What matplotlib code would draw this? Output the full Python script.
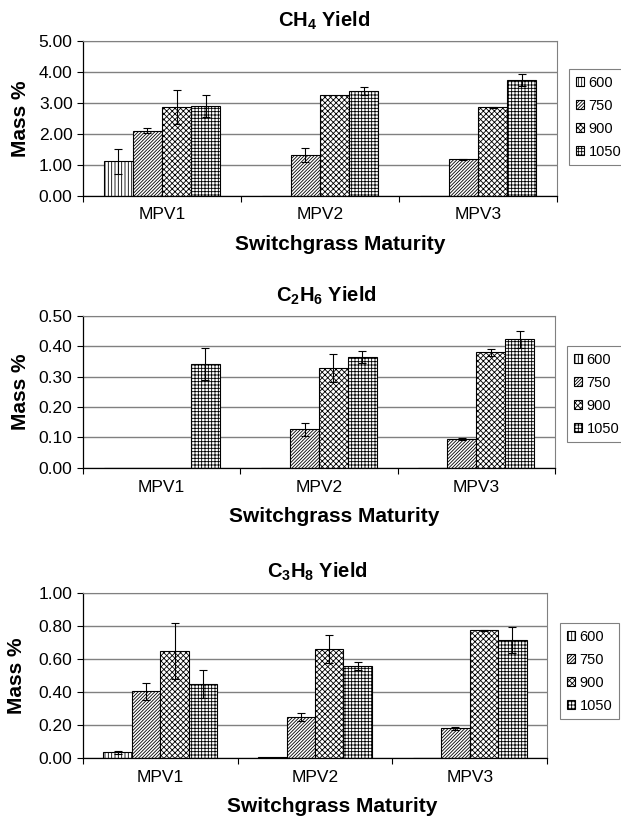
import numpy as np
import matplotlib
matplotlib.use("Agg")
import matplotlib.pyplot as plt
from matplotlib.ticker import FormatStrFormatter

plt.rcParams['font.family'] = ['Liberation Sans', 'DejaVu Sans']
plt.rcParams['hatch.linewidth'] = 0.6
plt.rcParams['mathtext.fontset'] = 'custom'
plt.rcParams['mathtext.rm'] = 'Liberation Sans:bold'
plt.rcParams['mathtext.it'] = 'Liberation Sans:bold'
plt.rcParams['mathtext.bf'] = 'Liberation Sans:bold'

# %% data
maturity = ['MPV1', 'MPV2', 'MPV3']
temps = ['600', '750', '900', '1050']

# CH4 yield (mass %), one list per temperature, values per maturity
ch4_600 = [1.11, 0.0, 0.0]
ch4_750 = [2.11, 1.31, 1.18]
ch4_900 = [2.86, 3.26, 2.86]
ch4_1050 = [2.90, 3.39, 3.75]
ch4_err_600 = [0.41, 0.0, 0.0]
ch4_err_750 = [0.09, 0.22, 0.01]
ch4_err_900 = [0.55, 0.0, 0.01]
ch4_err_1050 = [0.36, 0.12, 0.20]

# C2H6 yield
c2h6_600 = [0.0, 0.0, 0.0]
c2h6_750 = [0.0, 0.126, 0.095]
c2h6_900 = [0.0, 0.328, 0.379]
c2h6_1050 = [0.341, 0.363, 0.423]
c2h6_err_600 = [0.0, 0.0, 0.0]
c2h6_err_750 = [0.0, 0.022, 0.003]
c2h6_err_900 = [0.0, 0.045, 0.010]
c2h6_err_1050 = [0.052, 0.020, 0.028]

# C3H8 yield
c3h8_600 = [0.032, 0.002, 0.001]
c3h8_750 = [0.403, 0.247, 0.180]
c3h8_900 = [0.646, 0.662, 0.773]
c3h8_1050 = [0.447, 0.557, 0.715]
c3h8_err_600 = [0.010, 0.0, 0.0]
c3h8_err_750 = [0.053, 0.026, 0.009]
c3h8_err_900 = [0.170, 0.084, 0.004]
c3h8_err_1050 = [0.087, 0.025, 0.076]

hatches = ['|||||', '/' * 10, 'x' * 6, '+++++']


def draw_panel(ax, vals, errs, title, ymax, ystep, title_x, xlab_x, xlab_y, ylab_x, leg_anchor):
    x = np.arange(len(maturity))
    w = 0.184
    for i, (v, e) in enumerate(zip(vals, errs)):
        ax.bar(x + (i - 1.5) * w, v, w, color='white', edgecolor='black',
               linewidth=0.8, hatch=hatches[i], label=temps[i], zorder=2)
        e = np.array(e)
        m = e > 0
        ax.errorbar((x + (i - 1.5) * w)[m], np.array(v)[m], yerr=e[m], fmt='none',
                    ecolor='black', elinewidth=0.8, capsize=3, capthick=0.8, zorder=3)

    ax.set_xlim(-0.5, 2.5)
    ax.set_ylim(0, ymax)
    ax.set_yticks(np.arange(0, ymax + ystep / 2, ystep))
    ax.yaxis.set_major_formatter(FormatStrFormatter('%.2f'))
    ax.yaxis.grid(True, color='#808080', linewidth=1.0)
    ax.set_axisbelow(True)

    # category boundaries carry the ticks, labels sit in between
    ax.set_xticks([-0.5, 0.5, 1.5, 2.5])
    ax.set_xticklabels([])
    ax.set_xticks(x, minor=True)
    ax.set_xticklabels(maturity, minor=True)
    ax.tick_params(axis='x', which='major', direction='out', length=4, width=0.8)
    ax.tick_params(axis='x', which='minor', length=0, pad=8.5, labelsize=12.5)
    ax.tick_params(axis='y', direction='out', length=4, width=0.8, pad=3.5, labelsize=12.5)

    for s in ['top', 'right']:
        ax.spines[s].set_color('#808080')
        ax.spines[s].set_linewidth(0.8)
    for s in ['left', 'bottom']:
        ax.spines[s].set_color('black')
        ax.spines[s].set_linewidth(0.9)

    ax.text(title_x, 1.13, title, transform=ax.transAxes, ha='center', va='center',
            fontsize=14.5, fontweight='bold')
    ax.set_xlabel('Switchgrass Maturity', fontsize=15, fontweight='bold')
    ax.xaxis.label.set_verticalalignment('center')
    ax.xaxis.set_label_coords(xlab_x, xlab_y)
    ax.set_ylabel('Mass %', fontsize=15, fontweight='bold')
    ax.yaxis.label.set_verticalalignment('center')
    ax.yaxis.set_label_coords(ylab_x, 0.5)

    leg = ax.legend(loc='upper left', bbox_to_anchor=leg_anchor,
                    bbox_transform=ax.figure.transFigure, fontsize=10.5,
                    handlelength=0.6, handleheight=0.6, handletextpad=0.3,
                    labelspacing=0.62, borderpad=0.45, borderaxespad=0,
                    fancybox=False, framealpha=1)
    leg.get_frame().set_edgecolor('#808080')
    leg.get_frame().set_linewidth(0.8)


fig = plt.figure(figsize=(6.21, 8.16), dpi=100)
ax1 = fig.add_axes([0.1337, 0.7602, 0.7633, 0.1892])
ax2 = fig.add_axes([0.1337, 0.4268, 0.7600, 0.1863])
ax3 = fig.add_axes([0.1337, 0.0714, 0.7472, 0.2018])

draw_panel(ax1, [ch4_600, ch4_750, ch4_900, ch4_1050],
           [ch4_err_600, ch4_err_750, ch4_err_900, ch4_err_1050],
           r'CH$_4$ Yield', 5.0, 1.0, 0.508, 0.542, -0.319, -0.131, (0.9163, 0.9154))
draw_panel(ax2, [c2h6_600, c2h6_750, c2h6_900, c2h6_1050],
           [c2h6_err_600, c2h6_err_750, c2h6_err_900, c2h6_err_1050],
           r'C$_2$H$_6$ Yield', 0.5, 0.1, 0.515, 0.533, -0.324, -0.132, (0.913, 0.576))
draw_panel(ax3, [c3h8_600, c3h8_750, c3h8_900, c3h8_1050],
           [c3h8_err_600, c3h8_err_750, c3h8_err_900, c3h8_err_1050],
           r'C$_3$H$_8$ Yield', 1.0, 0.2, 0.504, 0.537, -0.299, -0.143, (0.9018, 0.2365))

fig.savefig('out.png', dpi=100)
